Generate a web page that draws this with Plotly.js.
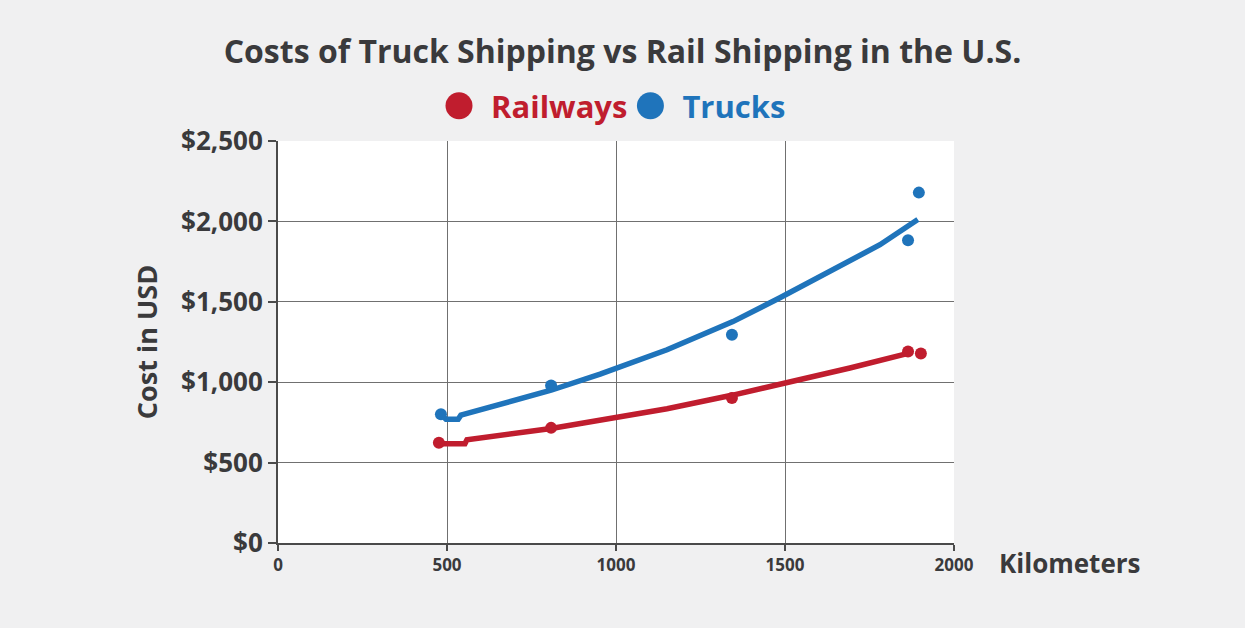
<!DOCTYPE html>
<html>
<head>
<meta charset="utf-8">
<script src="https://cdn.plot.ly/plotly-3.0.1.min.js"></script>
<style>
html,body{margin:0;padding:0;background:#f0f0f1;}
#chart{width:1245px;height:628px;}
</style>
</head>
<body>
<div id="chart"></div>
<script>
// Observed data points
const railKm = [476, 808, 1343, 1864, 1902];
const railCost = [623, 716, 901, 1191, 1179];
const truckKm = [482, 808, 1343, 1864, 1896];
const truckCost = [800, 980, 1295, 1883, 2179];

// Trend lines
const railFitKm = [476, 490, 553, 559, 808, 953, 1151, 1346, 1500, 1692, 1876];
const railFitCost = [623, 617, 617, 642, 712, 762, 835, 920, 994, 1088, 1185];
const truckFitKm = [482, 497, 533, 541, 808, 953, 1151, 1346, 1485, 1633, 1781, 1893];
const truckFitCost = [800, 770, 770, 795, 950, 1050, 1202, 1377, 1525, 1692, 1855, 2012];

const xTicks = [0, 500, 1000, 1500, 2000];
const yTicks = [0, 500, 1000, 1500, 2000, 2500];

const RED = '#c01d2e';
const BLUE = '#1f74bb';
const DARK = '#3a3a3c';
const FONT = '"Open Sans", "Noto Sans", sans-serif';

const traces = [
  {x: railFitKm, y: railFitCost, mode: 'lines', line: {color: RED, width: 5.5}, showlegend: false, hoverinfo: 'skip'},
  {x: truckFitKm, y: truckFitCost, mode: 'lines', line: {color: BLUE, width: 5.5}, showlegend: false, hoverinfo: 'skip'},
  {x: railKm, y: railCost, mode: 'markers', name: '<span style="color:' + RED + '">Railways</span>', marker: {color: RED, size: 12}},
  {x: truckKm, y: truckCost, mode: 'markers', name: '<span style="color:' + BLUE + '">Trucks</span>', marker: {color: BLUE, size: 12}}
];

const layout = {
  width: 1245, height: 628,
  paper_bgcolor: '#f0f0f1',
  plot_bgcolor: '#ffffff',
  margin: {l: 278, r: 291, t: 141, b: 85},
  font: {family: FONT, color: DARK},
  title: {
    text: '<b>Costs of Truck Shipping vs Rail Shipping in the U.S.</b>',
    font: {family: FONT, size: 32, color: DARK},
    x: 0.5, xanchor: 'center', y: 0.917, yanchor: 'middle'
  },
  showlegend: true,
  legend: {
    orientation: 'h', x: 0.5, xanchor: 'center', y: 1.087, yanchor: 'middle',
    font: {family: FONT, size: 31, color: DARK, weight: 'bold'},
    bgcolor: 'rgba(0,0,0,0)', itemsizing: 'trace', itemwidth: 40
  },
  xaxis: {
    range: [0, 2000], tickvals: xTicks, ticktext: xTicks.map(String),
    showgrid: true, gridcolor: '#707070', gridwidth: 1,
    showline: true, linecolor: '#4a4a4a', linewidth: 2,
    ticks: 'outside', ticklen: 6, tickcolor: '#4a4a4a', tickwidth: 2,
    tickfont: {family: FONT, size: 17, color: DARK, weight: 'bold'},
    zeroline: false, fixedrange: true
  },
  yaxis: {
    range: [0, 2500], tickvals: yTicks,
    ticktext: yTicks.map(v => '$' + v.toLocaleString('en-US')),
    showgrid: true, gridcolor: '#707070', gridwidth: 1,
    showline: true, linecolor: '#4a4a4a', linewidth: 2,
    ticks: 'outside', ticklen: 8, tickcolor: '#4a4a4a', tickwidth: 2,
    tickfont: {family: FONT, size: 26, color: DARK, weight: 'bold'},
    title: {text: '<b>Cost in USD</b>', font: {family: FONT, size: 27, color: DARK}, standoff: 16},
    zeroline: false, fixedrange: true
  },
  annotations: [
    {text: '<b>Kilometers</b>', xref: 'paper', yref: 'paper', x: 1.063, y: -0.05,
     xanchor: 'left', yanchor: 'middle', showarrow: false,
     font: {family: FONT, size: 26, color: DARK}}
  ]
};

Plotly.newPlot('chart', traces, layout, {displayModeBar: false, staticPlot: true}).then(function (gd) {
  // enlarge legend symbols to match the reference's big dots
  gd.querySelectorAll('.legend .legendpoints path.scatterpts').forEach(function (p) {
    const t = p.getAttribute('transform') || '';
    p.setAttribute('transform', t + ' translate(-7,0) scale(2.25)');
  });
});
</script>
</body>
</html>
